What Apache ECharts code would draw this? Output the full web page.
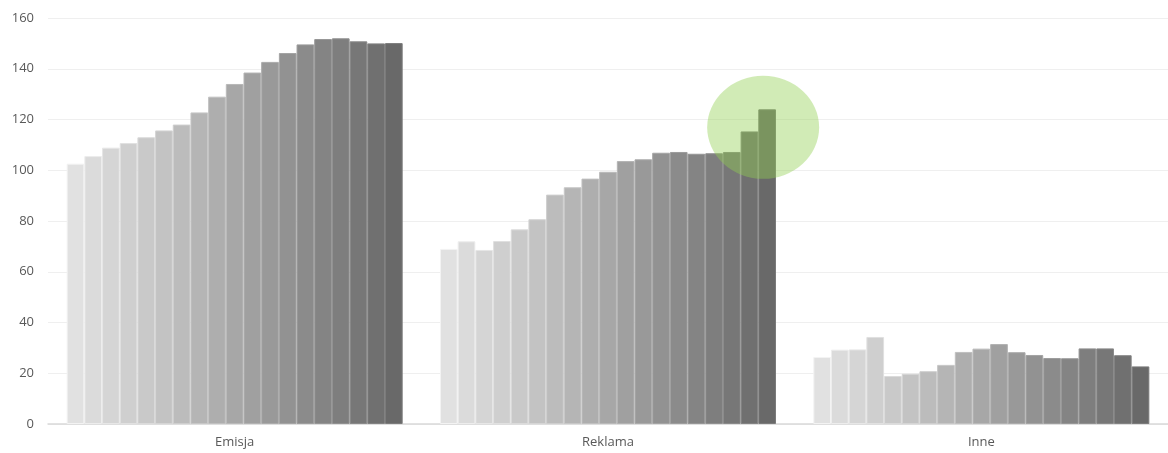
<!DOCTYPE html>
<html>
<head>
<meta charset="utf-8">
<script src="https://cdn.jsdelivr.net/npm/echarts@6/dist/echarts.min.js"></script>
<style>html,body{margin:0;padding:0;background:#fff}#c{width:1168px;height:453px}</style>
</head>
<body>
<div id="c"></div>
<script>
const categories = ['Emisja', 'Reklama', 'Inne'];
const yTicks = [0, 20, 40, 60, 80, 100, 120, 140, 160];
const emisja  = [102.6,105.6,108.9,110.7,113.0,115.7,118.0,122.8,129.0,134.0,138.5,142.7,146.2,149.6,151.7,152.0,150.8,150.0,150.1];
const reklama = [69.0,72.0,68.6,72.1,76.7,80.7,90.4,93.3,96.7,99.4,103.6,104.3,106.9,107.2,106.5,106.7,107.2,115.3,124.0];
const inne    = [26.4,29.3,29.4,34.3,18.9,19.8,20.8,23.3,28.4,29.7,31.5,28.3,27.2,26.0,25.9,29.8,29.8,27.1,22.7];
const barColors = ['#e1e1e1','#dbdbdb','#d5d5d5','#cfcfcf','#c9c9c9','#c3c3c3','#bcbcbc','#b5b5b5','#aeaeae','#a7a7a7','#a0a0a0','#999999','#929292','#8b8b8b','#848484','#7e7e7e','#777777','#707070','#696969'];
const highlight = {category: 'Reklama', value: 116.9};

function lighten(hex, amt) {
  const v = Math.min(255, parseInt(hex.slice(1, 3), 16) + amt);
  const h = v.toString(16).padStart(2, '0');
  return '#' + h + h + h;
}

const chart = echarts.init(document.getElementById('c'), null, {renderer: 'canvas'});
const series = barColors.map((col, i) => {
  const s = {
    type: 'bar',
    data: [emisja[i], reklama[i], inne[i]],
    barGap: '0%',
    barCategoryGap: '10%',
    itemStyle: {color: col, borderColor: lighten(col, 18), borderWidth: 1},
    emphasis: {disabled: true},
    animation: false
  };
  if (i === barColors.length - 1) {
    s.markPoint = {
      symbol: 'circle',
      symbolSize: [112, 103],
      symbolOffset: [-4, 0],
      silent: true,
      label: {show: false},
      itemStyle: {color: 'rgba(146,208,80,0.42)'},
      data: [{coord: [highlight.category, highlight.value]}],
      animation: false
    };
  }
  return s;
});

chart.setOption({
  animation: false,
  grid: {left: 48, right: 0, top: 18, bottom: 29, containLabel: false},
  xAxis: {
    type: 'category',
    data: categories,
    axisLine: {lineStyle: {color: '#d9d9d9', width: 1.5}},
    axisTick: {show: false},
    axisLabel: {color: '#595959', fontSize: 13, margin: 12, fontFamily: 'Open Sans, sans-serif'}
  },
  yAxis: {
    type: 'value',
    min: yTicks[0],
    max: yTicks[yTicks.length - 1],
    interval: 20,
    axisLine: {show: false},
    axisTick: {show: false},
    axisLabel: {color: '#595959', fontSize: 13, margin: 14, fontFamily: 'Open Sans, sans-serif'},
    splitLine: {lineStyle: {color: '#efefef', width: 1}}
  },
  series: series
});
</script>
</body>
</html>
